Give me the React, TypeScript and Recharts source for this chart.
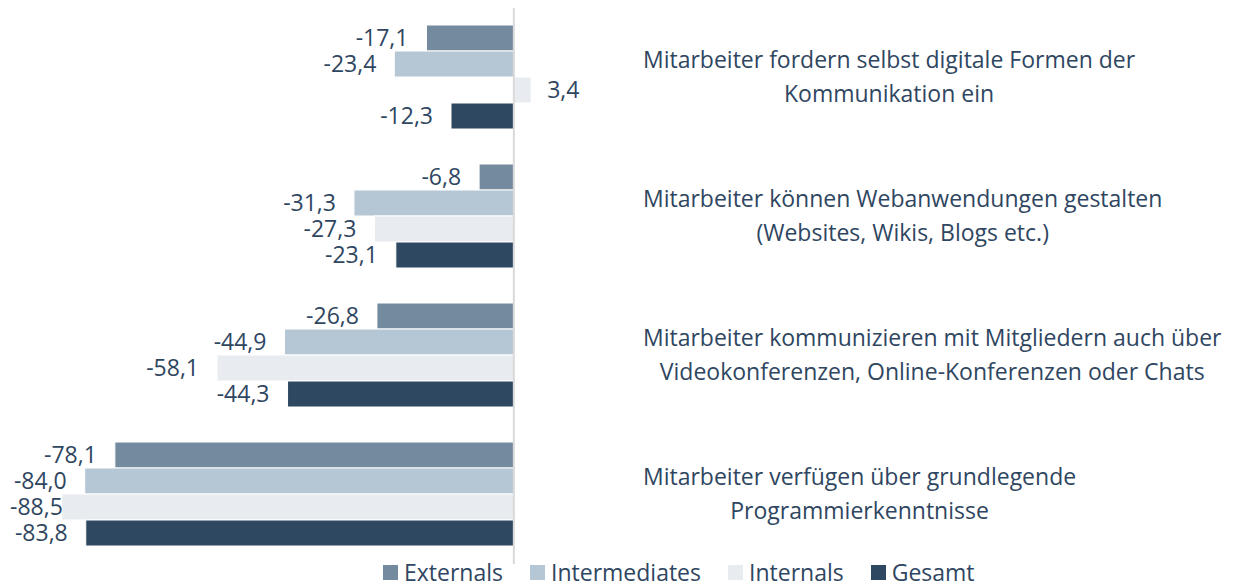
import React from "react";
import {
  BarChart,
  Bar,
  XAxis,
  YAxis,
  Legend,
  LabelList,
  ReferenceLine,
} from "recharts";

const categories = [
  ["Mitarbeiter fordern selbst digitale Formen der", "Kommunikation ein"],
  ["Mitarbeiter können Webanwendungen gestalten", "(Websites, Wikis, Blogs etc.)"],
  [
    "Mitarbeiter kommunizieren mit Mitgliedern auch über",
    "Videokonferenzen, Online-Konferenzen oder Chats",
  ],
  ["Mitarbeiter verfügen über grundlegende", "Programmierkenntnisse"],
];

const externals = [-17.1, -6.8, -26.8, -78.1];
const intermediates = [-23.4, -31.3, -44.9, -84.0];
const internals = [3.4, -27.3, -58.1, -88.5];
const gesamt = [-12.3, -23.1, -44.3, -83.8];

const seriesNames = ["Externals", "Intermediates", "Internals", "Gesamt"];
const colors = ["#748a9e", "#b5c7d5", "#e8ebf0", "#2f4861"];

const TEXT = "#2f4661";
const FONT = "'Open Sans', Lato, sans-serif";
const CAT_FS = 23;
const VAL_FS = 23;

const chartData = categories.map((lines, i) => ({
  name: lines.join("|"),
  Externals: externals[i],
  Intermediates: intermediates[i],
  Internals: internals[i],
  Gesamt: gesamt[i],
}));

let measureCtx: CanvasRenderingContext2D | null = null;
function textWidth(s: string, size: number) {
  if (!measureCtx) {
    measureCtx = document.createElement("canvas").getContext("2d");
  }
  if (!measureCtx) return s.length * size * 0.5;
  measureCtx.font = `${size}px ${FONT}`;
  return measureCtx.measureText(s).width;
}

function CategoryTick(props: any) {
  const { x, y, payload } = props;
  const lines: string[] = String(payload.value).split("|");
  const widest = Math.max(...lines.map((l) => textWidth(l, CAT_FS)));
  const cx = x + 27 + widest / 2;
  return (
    <text x={cx} y={y} textAnchor="middle" fill={TEXT} fontSize={CAT_FS} fontFamily={FONT}>
      {lines.map((l, i) => (
        <tspan key={i} x={cx} y={y - 1 + (i - (lines.length - 1) / 2) * 34} dy="0.35em">
          {l}
        </tspan>
      ))}
    </text>
  );
}

function ValueLabel(props: any) {
  const { x, y, width, height, value } = props;
  const left = Math.min(x, x + width);
  const right = Math.max(x, x + width);
  const neg = value < 0;
  const label = value.toFixed(1).replace(".", ",");
  // keep labels inside the chart on the left, like the original
  const endX = Math.max(left - 18, 10 + textWidth(label, VAL_FS));
  return (
    <text
      x={neg ? endX : right + 16}
      y={y + height / 2}
      dy="0.35em"
      textAnchor={neg ? "end" : "start"}
      fill={TEXT}
      fontSize={VAL_FS}
      fontFamily={FONT}
    >
      {label}
    </text>
  );
}

function LegendContent() {
  return (
    <div
      style={{
        display: "flex",
        paddingLeft: 383,
        fontFamily: FONT,
        fontSize: CAT_FS,
        color: TEXT,
        lineHeight: "24px",
      }}
    >
      {seriesNames.map((n, i) => (
        <div key={n} style={{ display: "flex", alignItems: "center", marginRight: 27 }}>
          <span
            style={{
              display: "inline-block",
              width: 15,
              height: 15,
              background: colors[i],
              marginRight: 6,
            }}
          />
          <span>{n}</span>
        </div>
      ))}
    </div>
  );
}

export default function App() {
  return (
    <div style={{ position: "absolute", left: 0, top: 0, background: "#fff" }}>
      <BarChart
        width={1245}
        height={586}
        data={chartData}
        layout="vertical"
        margin={{ top: 8, right: 0, bottom: 0, left: 3 }}
        barCategoryGap={17}
        barGap={0}
      >
        <XAxis type="number" domain={[-100, 20]} hide />
        <YAxis
          type="category"
          dataKey="name"
          orientation="right"
          width={629}
          axisLine={false}
          tickLine={false}
          tickSize={0}
          tickMargin={0}
          tick={<CategoryTick />}
          interval={0}
        />
        <ReferenceLine x={0} stroke="#d9d9d9" strokeWidth={2} />
        {seriesNames.map((n, i) => (
          <Bar
            key={n}
            dataKey={n}
            fill={colors[i]}
            stroke="#ffffff"
            strokeWidth={1}
            isAnimationActive={false}
          >
            <LabelList dataKey={n} content={<ValueLabel />} />
          </Bar>
        ))}
        <Legend
          verticalAlign="bottom"
          height={22}
          wrapperStyle={{ top: 560, left: 0, width: 1245 }}
          content={<LegendContent />}
        />
      </BarChart>
    </div>
  );
}
